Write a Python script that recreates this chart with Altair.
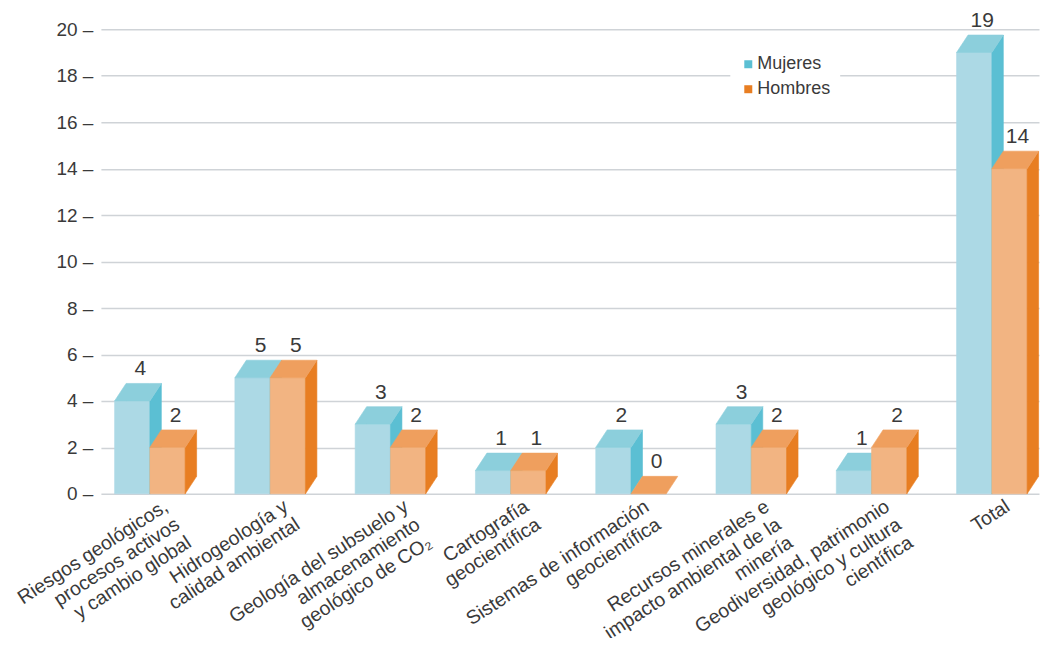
import altair as alt
import pandas as pd

categories = [
    "Riesgos geológicos,\nprocesos activos\ny cambio global",
    "Hidrogeología y\ncalidad ambiental",
    "Geología del subsuelo y\nalmacenamiento\ngeológico de CO₂",
    "Cartografía\ngeocientífica",
    "Sistemas de información\ngeocientífica",
    "Recursos minerales e\nimpacto ambiental de la\nminería",
    "Geodiversidad, patrimonio\ngeológico y cultura\ncientífica",
    "Total",
]
mujeres = [4, 5, 3, 1, 2, 3, 1, 19]
hombres = [2, 5, 2, 1, 0, 2, 2, 14]
series_names = ["Mujeres", "Hombres"]

FONT = "Liberation Sans"
TEXT_COLOR = "#3a3a3a"

PLOT_W = 939
PLOT_H = 465
PX_X = 120.4          # pixels per category step
PX_Y = PLOT_H / 20.0  # pixels per unit
X_MIN = (101 - 150) / PX_X
X_MAX = X_MIN + PLOT_W / PX_X

W = 35.3 / PX_X   # bar width (category units)
DX = 11.5 / PX_X  # depth offset x
D = 17.5 / PX_Y   # depth offset y

colors = {
    "Mujeres": {"front": "#acd9e5", "top": "#8ccfdc", "side": "#5bbfd3"},
    "Hombres": {"front": "#f2b482", "top": "#ef9f5e", "side": "#e87e22"},
}

rows = []
vlabels = []
for i in range(len(categories)):
    for s, (name, vals) in enumerate([("Mujeres", mujeres), ("Hombres", hombres)]):
        v = vals[i]
        x0 = i + (s - 1) * W
        x1 = x0 + W
        faces = [("top", [(x0, v, v), (x0 + DX, v, v + D), (x1, v, v + D), (x1 + DX, v + D, v + D)])]
        if v > 0:
            faces += [("front", [(x0, 0, v), (x1, 0, v)]),
                      ("side", [(x1, 0, v), (x1 + DX, D, v + D)])]
        for face, pts in faces:
            for (x, y, y2) in pts:
                rows.append(dict(series=name, face=face, pid=f"{name}-{i}-{face}", x=x, y=y, y2=y2))
        vlabels.append(dict(series=name, x=x0 + W / 2 + 8 / PX_X, y=v + D, text=str(v)))

df = pd.DataFrame(rows)
lab_df = pd.DataFrame(vlabels)
cat_df = pd.DataFrame({"x": [i + 9 / PX_X for i in range(len(categories))], "label": categories})

x_enc = alt.X("x:Q", scale=alt.Scale(domain=[X_MIN, X_MAX], nice=False, zero=False), axis=None)
y_enc = alt.Y(
    "y:Q",
    scale=alt.Scale(domain=[0, 20], nice=False, zero=True),
    axis=alt.Axis(
        values=list(range(0, 21, 2)), labelExpr="datum.label + ' –'", ticks=False, domain=False,
        grid=True, gridColor="#cfd3d7", gridWidth=1.5, labelFontSize=19, labelFont=FONT,
        labelColor=TEXT_COLOR, labelPadding=8, title=None,
    ),
)

legend = alt.Legend(
    title=None, orient="none", legendX=630, legendY=17, fillColor="white", padding=9,
    symbolType="square", symbolSize=64, symbolStrokeWidth=0, labelFontSize=18,
    labelFont=FONT, labelColor=TEXT_COLOR, rowPadding=7, labelOffset=0,
)

layers = []
for name in series_names:
    for face in ["front", "side", "top"]:
        if face == "side":
            color = alt.Color("series:N", scale=alt.Scale(domain=series_names,
                              range=[colors["Mujeres"]["side"], colors["Hombres"]["side"]]), legend=legend)
        else:
            color = alt.value(colors[name][face])
        layer = (
            alt.Chart(df)
            .transform_filter(f"datum.series == '{name}' && datum.face == '{face}'")
            .mark_area(strokeWidth=0.6)
            .encode(x=x_enc, y=y_enc, y2=alt.Y2("y2:Q"), detail="pid:N",
                    color=color, stroke=alt.value(colors[name][face]))
        )
        layers.append(layer)

value_text = alt.Chart(lab_df).mark_text(
    baseline="bottom", dy=-4, fontSize=21, font=FONT, color=TEXT_COLOR
).encode(x=x_enc, y=alt.Y("y:Q"), text="text:N")

cat_text = alt.Chart(cat_df).mark_text(
    angle=327, align="right", baseline="top", lineBreak="\n", fontSize=19.5,
    lineHeight=21.5, font=FONT, color=TEXT_COLOR, dy=4
).encode(x=x_enc, y=alt.datum(0), text="label:N")

chart = (
    alt.layer(*layers, value_text, cat_text)
    .properties(width=PLOT_W, height=PLOT_H, autosize="none",
                padding={"left": 93, "top": 21, "right": 2, "bottom": 144})
    .configure_view(stroke=None)
)

chart.save("out.html", embed_options={"renderer": "svg", "actions": False})
